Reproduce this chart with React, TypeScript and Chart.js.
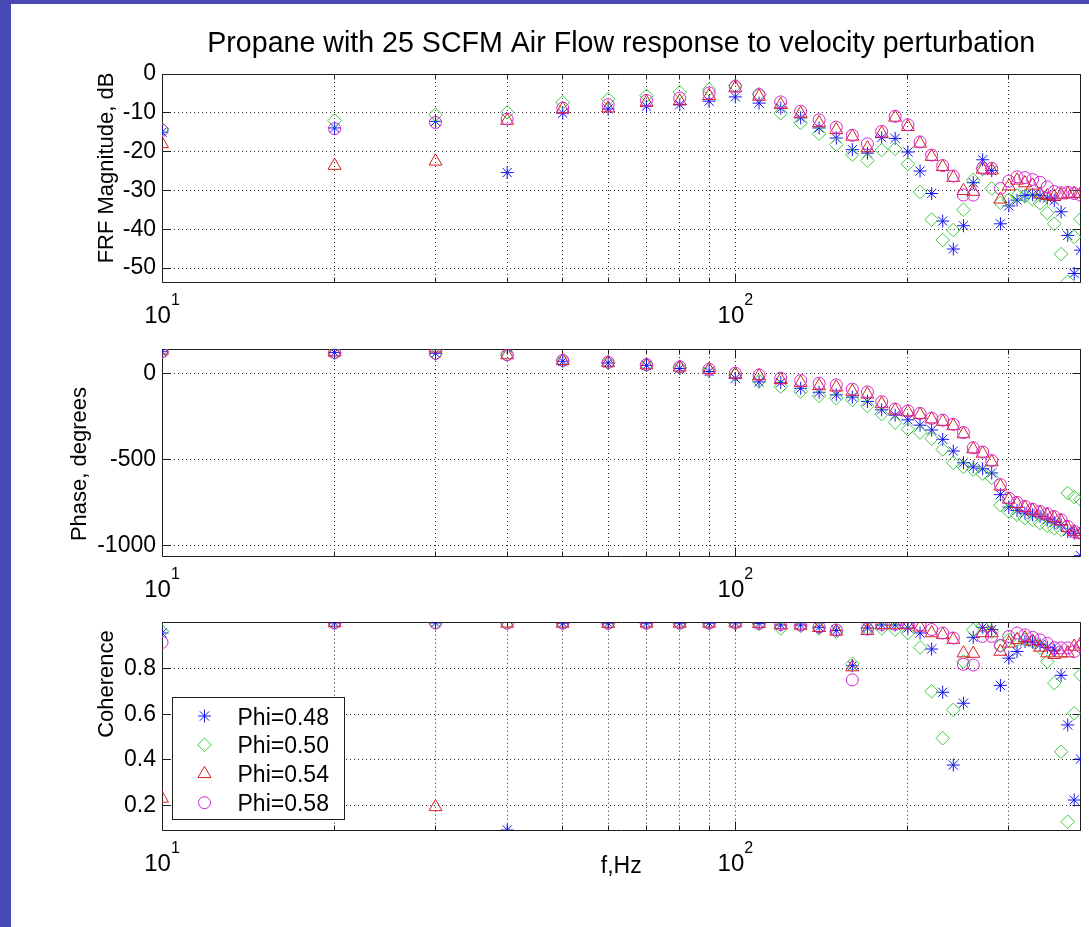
import React, { useEffect, useRef } from 'react';
import { Chart, registerables } from 'chart.js';
import { drawPoint } from 'chart.js/helpers';

Chart.register(...registerables);

// ---------------- data ----------------
const FREQ_HZ = [
  10, 20, 30, 40, 50, 60, 70, 80, 90, 100,
  110, 120, 130, 140, 150, 160, 170, 180, 190, 200,
  210, 220, 230, 240, 250, 260, 270, 280, 290, 300,
  310, 320, 330, 340, 350, 360, 370, 380, 390, 400,
];

const SERIES_LABELS = ['Phi=0.48', 'Phi=0.50', 'Phi=0.54', 'Phi=0.58'];

// FRF magnitude, dB
const MAG_048 = [
  -15.0, -13.9, -12.2, -25.4, -10.1, -9.0, -8.3, -7.9, -7.0, -5.9,
  -7.5, -8.8, -11.3, -13.9, -16.5, -19.5, -20.4, -16.4, -16.6, -20.1,
  -25.0, -30.8, -37.9, -45.1, -39.1, -28.0, -22.1, -24.9, -38.6, -34.0,
  -32.5, -31.3, -31.1, -31.4, -32.0, -32.6, -35.5, -41.6, -51.4, -45.4,
];
const MAG_050 = [
  -14.2, -12.0, -10.5, -9.9, -7.3, -6.5, -5.6, -4.7, -4.0, -3.0,
  -5.2, -10.1, -12.6, -15.4, -18.2, -20.8, -22.3, -19.6, -19.3, -23.2,
  -30.4, -37.5, -42.8, -40.2, -35.0, -27.3, -24.5, -29.5, -33.2, -32.4,
  -31.3, -31.5, -32.3, -33.3, -35.8, -38.6, -46.4, -53.5, -42.0, -37.4,
];
const MAG_054 = [
  -18.0, -23.6, -22.5, -12.0, -9.0, -8.8, -7.3, -7.0, -5.6, -3.6,
  -5.8, -7.9, -10.2, -12.6, -14.4, -16.1, -19.1, -15.3, -11.2, -13.6,
  -17.9, -21.3, -23.9, -26.7, -30.1, -30.3, -24.6, -24.8, -32.3, -28.9,
  -27.4, -28.1, -28.7, -31.0, -31.4, -31.6, -31.2, -30.9, -30.8, -30.9,
];
const MAG_058 = [
  -14.5, -14.1, -12.5, -11.6, -8.8, -7.9, -6.8, -6.2, -4.9, -3.2,
  -5.3, -7.2, -9.6, -11.8, -13.7, -15.8, -18.0, -14.8, -10.9, -13.1,
  -17.5, -20.9, -23.6, -26.3, -31.2, -31.2, -24.3, -24.3, -29.5, -27.6,
  -26.5, -26.7, -27.2, -27.9, -29.1, -30.3, -30.6, -30.5, -30.8, -31.2,
];

// Phase, degrees
const PHASE_048 = [
  125, 120, 116, 151, 70, 60, 46, 28, 10, -29,
  -50, -54, -87, -110, -125, -138, -163, -212, -243, -270,
  -301, -329, -383, -451, -519, -543, -554, -578, -704, -776,
  -796, -811, -821, -831, -850, -866, -879, -918, -928, -1058,
];
const PHASE_050 = [
  125, 118, 113, 106, 73, 62, 48, 33, 15, -10,
  -45, -77, -106, -131, -144, -154, -190, -237, -286, -325,
  -344, -379, -442, -519, -543, -558, -582, -607, -765, -802,
  -821, -840, -850, -870, -885, -899, -908, -695, -718, -733,
];
const PHASE_054 = [
  133, 122, 145, 106, 73, 62, 48, 35, 20, -5,
  -15, -38, -54, -73, -81, -106, -122, -178, -215, -225,
  -240, -266, -280, -305, -352, -440, -465, -515, -655, -732,
  -757, -780, -796, -810, -823, -839, -858, -897, -920, -935,
];
const PHASE_058 = [
  125, 120, 116, 108, 75, 64, 50, 37, 23, 0,
  -10, -29, -42, -58, -67, -92, -108, -165, -208, -218,
  -233, -261, -272, -296, -344, -432, -457, -506, -646, -724,
  -749, -772, -788, -802, -815, -831, -850, -889, -918, -928,
];

// Coherence
const COH_048 = [
  0.955, 0.999, 0.999, 0.094, 0.998, 0.998, 0.998, 0.998, 0.998, 0.999,
  0.997, 0.99, 0.99, 0.98, 0.966, 0.812, 0.977, 0.99, 0.99, 0.977,
  0.955, 0.885, 0.696, 0.378, 0.648, 0.936, 0.98, 0.97, 0.726, 0.845,
  0.874, 0.918, 0.915, 0.904, 0.892, 0.88, 0.77, 0.553, 0.225, 0.404,
];
const COH_050 = [
  0.962, 0.999, 0.999, 0.998, 0.998, 0.998, 0.998, 0.998, 0.998, 0.998,
  0.995, 0.975, 0.985, 0.975, 0.96, 0.82, 0.975, 0.975, 0.97, 0.955,
  0.892, 0.70, 0.495, 0.619, 0.83, 0.969, 0.984, 0.96, 0.90, 0.925,
  0.925, 0.925, 0.918, 0.89, 0.83, 0.736, 0.436, 0.13, 0.604, 0.772,
];
const COH_054 = [
  0.232, 0.999, 0.195, 0.997, 0.997, 0.996, 0.997, 0.997, 0.997, 0.998,
  0.996, 0.99, 0.988, 0.978, 0.962, 0.806, 0.965, 0.99, 0.99, 0.99,
  0.98, 0.955, 0.947, 0.926, 0.867, 0.865, 0.955, 0.955, 0.874, 0.91,
  0.925, 0.933, 0.918, 0.892, 0.867, 0.86, 0.867, 0.867, 0.896, 0.906,
];
const COH_058 = [
  0.914, 0.999, 0.999, 0.998, 0.998, 0.998, 0.998, 0.998, 0.998, 0.999,
  0.997, 0.992, 0.99, 0.982, 0.968, 0.75, 0.972, 0.992, 0.993, 0.995,
  0.99, 0.97, 0.955, 0.933, 0.818, 0.815, 0.94, 0.94, 0.90, 0.94,
  0.955, 0.947, 0.936, 0.925, 0.91, 0.89, 0.89, 0.89, 0.874, 0.896,
];

const X_GRID_TICKS = [10, 20, 30, 40, 50, 60, 70, 80, 90, 100, 200, 300, 400];
const X_LABEL_TICKS = [10, 100];
const MAG_TICKS = [-50, -40, -30, -20, -10, 0];
const PHASE_TICKS = [-1000, -500, 0];
const COH_TICKS = [0.2, 0.4, 0.6, 0.8];

const TITLE_TEXT = 'Propane with 25 SCFM Air Flow response to velocity perturbation';
const X_TITLE_TEXT = 'f,Hz';

// ---------------- styles / layout ----------------
const PAGE_W = 1089;
const PAGE_H = 927;
const FONT_FAMILY = '"Liberation Sans", Arial, Helvetica, sans-serif';
const FRAME_COLOR = '#1e1e1e';
const GRID_COLOR = '#2a2a2a';
const AXIS_LEFT = 162;
const AXIS_RIGHT_PAD = PAGE_W - 1083;

const MARKERS = [
  { color: '#1414f0', style: 'star', radius: 6.5 },
  { color: '#3ccc3c', style: 'rectRot', radius: 6.8 },
  { color: '#d82020', style: 'triangle', radius: 7.5 },
  { color: '#d424d4', style: 'circle', radius: 6 },
];

const alignPx = (p: number) => Math.round(p - 0.5) + 0.5;

const axesFramePlugin = {
  id: 'axesFrame',
  beforeDatasetsDraw(chart: any) {
    const { ctx, chartArea, scales } = chart;
    const l = alignPx(chartArea.left);
    const r = alignPx(chartArea.right);
    const t = alignPx(chartArea.top);
    const b = alignPx(chartArea.bottom);
    ctx.save();
    ctx.setLineDash([]);
    ctx.strokeStyle = FRAME_COLOR;
    ctx.lineWidth = 1;
    ctx.beginPath();
    ctx.rect(l, t, r - l, b - t);
    scales.y.ticks.forEach((tk: any) => {
      const y = alignPx(scales.y.getPixelForValue(tk.value));
      ctx.moveTo(l, y);
      ctx.lineTo(l + 8, y);
      ctx.moveTo(r, y);
      ctx.lineTo(r - 8, y);
    });
    scales.x.ticks.forEach((tk: any) => {
      const x = alignPx(scales.x.getPixelForValue(tk.value));
      const len = X_LABEL_TICKS.includes(tk.value) ? 9 : 5;
      ctx.moveTo(x, b);
      ctx.lineTo(x, b - len);
      ctx.moveTo(x, t);
      ctx.lineTo(x, t + len);
    });
    ctx.stroke();
    ctx.restore();
  },
  afterDraw(chart: any) {
    const { ctx, chartArea, scales } = chart;
    ctx.save();
    ctx.fillStyle = '#000';
    ctx.textBaseline = 'alphabetic';
    ctx.textAlign = 'left';
    X_LABEL_TICKS.forEach((v) => {
      const px = scales.x.getPixelForValue(v);
      const exp = String(Math.round(Math.log10(v)));
      ctx.font = `24px ${FONT_FAMILY}`;
      const wBase = ctx.measureText('10').width;
      ctx.font = `16px ${FONT_FAMILY}`;
      const wExp = ctx.measureText(exp).width;
      const x0 = px - (wBase + wExp) / 2;
      ctx.font = `24px ${FONT_FAMILY}`;
      ctx.fillText('10', x0, chartArea.bottom + 41);
      ctx.font = `16px ${FONT_FAMILY}`;
      ctx.fillText(exp, x0 + wBase, chartArea.bottom + 23);
    });
    ctx.restore();
  },
};

const insetLegendPlugin = {
  id: 'insetLegend',
  afterDatasetsDraw(chart: any) {
    const { ctx, chartArea } = chart;
    const w = 172;
    const h = 122;
    const x0 = alignPx(chartArea.left + 10);
    const y0 = alignPx(chartArea.bottom - 11 - h);
    ctx.save();
    ctx.setLineDash([]);
    ctx.fillStyle = '#ffffff';
    ctx.fillRect(x0, y0, w, h);
    ctx.strokeStyle = FRAME_COLOR;
    ctx.lineWidth = 1;
    ctx.strokeRect(x0, y0, w, h);
    chart.data.datasets.forEach((ds: any, i: number) => {
      const cy = y0 + 18.5 + i * 28.9;
      ctx.strokeStyle = ds.borderColor;
      ctx.fillStyle = 'rgba(0,0,0,0)';
      ctx.lineWidth = 1;
      drawPoint(ctx, { pointStyle: ds.pointStyle, radius: ds.pointRadius, rotation: 0, borderWidth: 1 } as any, x0 + 32, cy);
      ctx.fillStyle = '#000';
      ctx.font = `23px ${FONT_FAMILY}`;
      ctx.textAlign = 'left';
      ctx.textBaseline = 'alphabetic';
      ctx.fillText(ds.label, x0 + 65, cy + 8.5);
    });
    ctx.restore();
  },
};

function makeYTitlePlugin(text: string, cx: number, cy: number) {
  return {
    id: 'yTitle',
    afterDraw(chart: any) {
      const { ctx } = chart;
      ctx.save();
      ctx.translate(cx, cy);
      ctx.rotate(-Math.PI / 2);
      ctx.fillStyle = '#000';
      ctx.font = `22px ${FONT_FAMILY}`;
      ctx.textAlign = 'center';
      ctx.textBaseline = 'middle';
      ctx.fillText(text, 0, 0);
      ctx.restore();
    },
  };
}

type Panel = {
  series: number[][];
  yMin: number;
  yMax: number;
  yTicks: number[];
  yTitle: string;
  fmt: (v: number) => string;
  top: number;
  bottom: number;
  xAxisH: number;
  yTitleX: number;
  yTitleY: number;
  showTitle: boolean;
  showLegend: boolean;
  showXTitle: boolean;
};

const PANELS: Panel[] = [
  {
    series: [MAG_048, MAG_050, MAG_054, MAG_058],
    yMin: -53.6, yMax: 0, yTicks: MAG_TICKS, yTitle: 'FRF Magnitude, dB',
    fmt: (v) => String(v), top: 74, bottom: 282, xAxisH: 50, yTitleX: 107, yTitleY: 168,
    showTitle: true, showLegend: false, showXTitle: false,
  },
  {
    series: [PHASE_048, PHASE_050, PHASE_054, PHASE_058],
    yMin: -1060, yMax: 141, yTicks: PHASE_TICKS, yTitle: 'Phase, degrees',
    fmt: (v) => String(v), top: 349, bottom: 556, xAxisH: 50, yTitleX: 80, yTitleY: 464,
    showTitle: false, showLegend: false, showXTitle: false,
  },
  {
    series: [COH_048, COH_050, COH_054, COH_058],
    yMin: 0.094, yMax: 1.0, yTicks: COH_TICKS, yTitle: 'Coherence',
    fmt: (v) => v.toFixed(1), top: 622.7, bottom: 830, xAxisH: 60, yTitleX: 107, yTitleY: 684,
    showTitle: false, showLegend: true, showXTitle: true,
  },
];

function buildConfig(p: Panel): any {
  const datasets = SERIES_LABELS.map((label, i) => ({
    label,
    data: FREQ_HZ.map((f, j) => ({ x: f, y: p.series[i][j] })),
    showLine: false,
    pointStyle: MARKERS[i].style,
    pointRadius: MARKERS[i].radius,
    pointHoverRadius: MARKERS[i].radius,
    borderColor: MARKERS[i].color,
    backgroundColor: 'rgba(0,0,0,0)',
    pointBorderWidth: 1,
    borderWidth: 1,
    order: 3 - i,
  }));
  const titleSize = 28.6;
  const titleLine = titleSize * 1.2;
  const titlePadTop = 27;
  const plugins: any[] = [axesFramePlugin, makeYTitlePlugin(p.yTitle, p.yTitleX, p.yTitleY)];
  if (p.showLegend) plugins.push(insetLegendPlugin);
  return {
    type: 'scatter',
    data: { datasets },
    options: {
      animation: false,
      responsive: false,
      devicePixelRatio: 1,
      events: [],
      layout: {
        padding: {
          left: 0,
          right: AXIS_RIGHT_PAD,
          top: p.showTitle ? 0 : p.top,
          bottom: PAGE_H - p.bottom - p.xAxisH,
        },
      },
      plugins: {
        legend: { display: false },
        tooltip: { enabled: false },
        title: {
          display: p.showTitle,
          text: TITLE_TEXT,
          fullSize: false,
          color: '#000',
          font: { family: FONT_FAMILY, size: titleSize, weight: 'normal', lineHeight: 1.2 },
          padding: { top: titlePadTop, bottom: p.top - titlePadTop - titleLine },
        },
      },
      scales: {
        x: {
          type: 'logarithmic',
          position: 'bottom',
          min: 10,
          max: 400,
          afterBuildTicks: (scale: any) => {
            scale.ticks = X_GRID_TICKS.map((v) => ({ value: v }));
          },
          afterFit: (scale: any) => {
            scale.height = p.xAxisH;
          },
          ticks: { display: false },
          grid: { color: GRID_COLOR, lineWidth: 1, drawTicks: false },
          border: { display: false, dash: [1, 3] },
          title: {
            display: p.showXTitle,
            text: X_TITLE_TEXT,
            color: '#000',
            font: { family: FONT_FAMILY, size: 23, weight: 'normal', lineHeight: 1.2 },
            padding: { top: 0, bottom: 10 },
          },
        },
        y: {
          type: 'linear',
          position: 'left',
          min: p.yMin,
          max: p.yMax,
          afterBuildTicks: (scale: any) => {
            scale.ticks = p.yTicks.map((v) => ({ value: v }));
          },
          afterFit: (scale: any) => {
            scale.width = AXIS_LEFT;
          },
          ticks: {
            color: '#000',
            padding: 6,
            font: { family: FONT_FAMILY, size: 23 },
            callback: (v: any) => p.fmt(Number(v)),
          },
          grid: { color: GRID_COLOR, lineWidth: 1, drawTicks: false },
          border: { display: false, dash: [1, 3] },
          title: { display: false },
        },
      },
    },
    plugins,
  };
}

function PanelChart({ panel }: { panel: Panel }) {
  const ref = useRef<HTMLCanvasElement | null>(null);
  useEffect(() => {
    if (!ref.current) return;
    const chart = new Chart(ref.current, buildConfig(panel));
    return () => chart.destroy();
  }, [panel]);
  return (
    <canvas
      ref={ref}
      width={PAGE_W}
      height={PAGE_H}
      style={{ position: 'absolute', left: 0, top: 0, width: PAGE_W, height: PAGE_H }}
    />
  );
}

export default function App() {
  return (
    <div
      style={{
        position: 'absolute',
        left: 0,
        top: 0,
        width: PAGE_W,
        height: PAGE_H,
        background: '#4848b6',
        overflow: 'hidden',
      }}
    >
      <div style={{ position: 'absolute', left: 11, top: 4, right: 0, bottom: 0, background: '#ffffff' }} />
      {PANELS.map((p, i) => (
        <PanelChart key={i} panel={p} />
      ))}
    </div>
  );
}
